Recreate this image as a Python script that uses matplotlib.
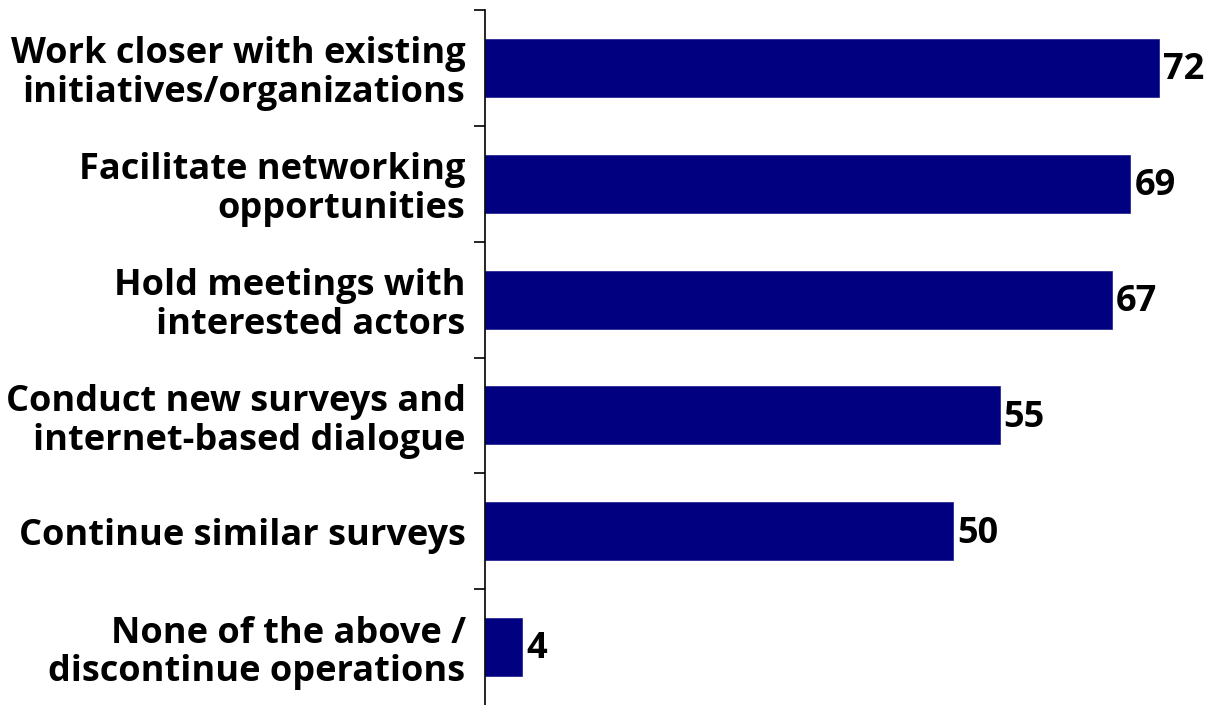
import matplotlib
matplotlib.use("Agg")
import matplotlib.pyplot as plt

categories = ["Work closer with existing\ninitiatives/organizations",
              "Facilitate networking\nopportunities",
              "Hold meetings with\ninterested actors",
              "Conduct new surveys and\ninternet-based dialogue",
              "Continue similar surveys",
              "None of the above /\ndiscontinue operations"]
values = [72, 69, 67, 55, 50, 4]

plt.rcParams['font.family'] = ['Open Sans', 'DejaVu Sans']

fig = plt.figure(figsize=(12.1, 7.05), dpi=100)
ax = fig.add_axes([485/1210, 0, 1 - 485/1210, 1 - 10/705])

pos = list(range(len(values)))
ax.barh(pos, values, height=0.5, color='#000080', edgecolor='#1a1a8c', linewidth=0.5)
for p, v in zip(pos, values):
    ax.text(v + 0.45, p + 0.02, str(v), va='center', ha='left', fontsize=26, fontweight='bold')

ax.set_ylim(len(values) - 0.5, -0.5)
ax.set_xlim(0, 77.5)
ax.set_yticks(pos)
ax.set_yticklabels(categories, fontsize=26, fontweight='bold', linespacing=1.1)
ax.set_yticks([p - 0.5 for p in pos], minor=True)
ax.tick_params(axis='y', which='major', length=0, pad=14)
ax.tick_params(axis='y', which='minor', length=8, width=1.2, direction='out')
ax.set_xticks([])
for s in ['top', 'right', 'bottom']:
    ax.spines[s].set_visible(False)
ax.spines['left'].set_linewidth(1.2)

fig.savefig("out.png", dpi=100)
